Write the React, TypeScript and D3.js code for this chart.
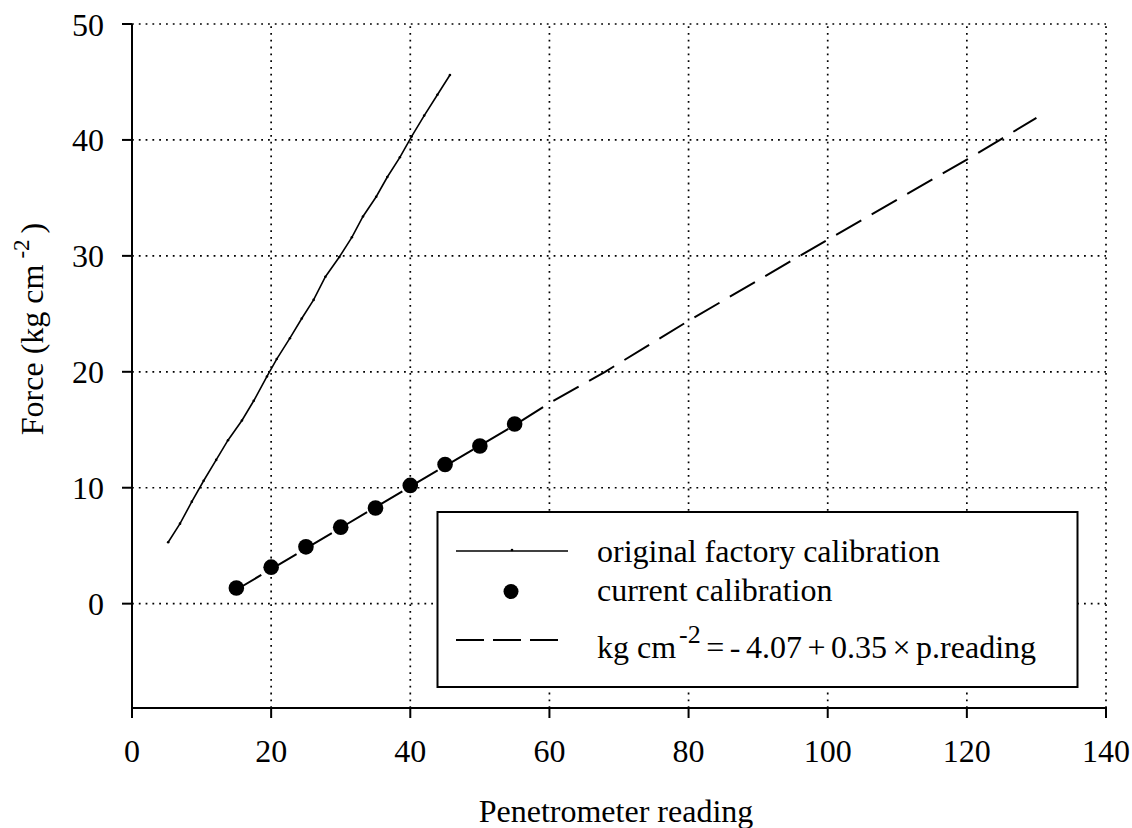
import React from "react";
import * as d3 from "d3";

const factoryX = [5.2, 6.9, 8.6, 10.3, 12.1, 13.8, 15.8, 17.5, 19.4, 20.8, 22.7, 24.4, 26.1, 27.8, 29.8, 31.6, 33.2, 35.1, 36.7, 38.5, 40.2, 42.0, 43.9, 45.7];
const factoryY = [5.3, 6.9, 8.8, 10.6, 12.4, 14.1, 15.8, 17.5, 19.6, 21.1, 22.9, 24.6, 26.2, 28.2, 29.9, 31.6, 33.4, 35.1, 36.8, 38.5, 40.3, 42.1, 43.9, 45.6];

const currentX = [15, 20, 25, 30, 35, 40, 45, 50, 55];
const currentY = [1.35, 3.15, 4.9, 6.6, 8.25, 10.2, 12.0, 13.6, 15.5];

const fitX = [15, 40, 55, 60, 68, 80, 100, 120, 125, 130];
const fitY = [1.2, 10.1, 15.4, 17.3, 20.0, 24.4, 31.4, 38.3, 40.1, 41.9];

const xTicks = [0, 20, 40, 60, 80, 100, 120, 140];
const yTicks = [0, 10, 20, 30, 40, 50];

const legendLabels = ["original factory calibration", "current calibration"];

const FONT = "'Liberation Serif', 'Times New Roman', serif";

export default function App() {
  const W = 1132, H = 828;
  const x = d3.scaleLinear().domain([0, 140]).range([132, 1106]);
  const y = d3.scaleLinear().domain([-9, 50]).range([708, 24]);
  const line = d3.line<[number, number]>().x(d => x(d[0])).y(d => y(d[1]));
  const factory: [number, number][] = factoryX.map((v, i) => [v, factoryY[i]]);
  const current: [number, number][] = currentX.map((v, i) => [v, currentY[i]]);
  const fit: [number, number][] = fitX.map((v, i) => [v, fitY[i]]);

  const [x0, x1] = x.range();
  const [yb, yt] = y.range();

  return (
    <svg width={W} height={H} style={{ position: "absolute", left: 0, top: 0, background: "#fff" }} fontFamily={FONT}>
      {/* grid */}
      <g stroke="#000" strokeWidth={1.7} strokeDasharray="1.8,5" fill="none">
        {xTicks.filter(t => t > 0).map(t => (
          <line key={"gx" + t} x1={x(t)} x2={x(t)} y1={yb} y2={yt} />
        ))}
        {yTicks.map(t => (
          <line key={"gy" + t} x1={x0} x2={x1} y1={y(t)} y2={y(t)} />
        ))}
      </g>
      {/* axes */}
      <g stroke="#000" strokeWidth={2} fill="none">
        <line x1={x0} x2={x0} y1={yb + 1} y2={yt} />
        <line x1={x0} x2={x1 + 1} y1={yb} y2={yb} />
        {xTicks.map(t => (
          <line key={"tx" + t} x1={x(t)} x2={x(t)} y1={yb} y2={yb + 10} />
        ))}
        {yTicks.map(t => (
          <line key={"ty" + t} x1={x0 - 10} x2={x0} y1={y(t)} y2={y(t)} />
        ))}
      </g>
      <g fontSize={32} fill="#000">
        {xTicks.map(t => (
          <text key={"lx" + t} x={x(t)} y={762} textAnchor="middle">{t}</text>
        ))}
        {yTicks.map(t => (
          <text key={"ly" + t} x={104} y={y(t) + 11.5} textAnchor="end">{t}</text>
        ))}
        <text x={616} y={822} textAnchor="middle">Penetrometer reading</text>
        <text transform="translate(43,329) rotate(-90)" textAnchor="middle">
          Force (kg cm<tspan fontSize={23} dx={6} dy={-14}>-2</tspan><tspan dx={6} dy={14}>)</tspan>
        </text>
      </g>
      {/* series */}
      <path d={line(factory) || ""} fill="none" stroke="#000" strokeWidth={1.6} />
      {factory.map((d, i) => (
        <circle key={"fm" + i} cx={x(d[0])} cy={y(d[1])} r={1.3} fill="#000" />
      ))}
      <path d={line(fit) || ""} fill="none" stroke="#000" strokeWidth={2} strokeDasharray="29,12" />
      {current.map((d, i) => (
        <circle key={"cp" + i} cx={x(d[0])} cy={y(d[1])} r={7.8} fill="#000" />
      ))}
      {/* legend */}
      <g>
        <rect x={437.5} y={512} width={640} height={175} fill="#fff" stroke="#000" strokeWidth={2} />
        <line x1={456} x2={568} y1={551} y2={551} stroke="#000" strokeWidth={1.6} />
        <circle cx={512} cy={550} r={1.3} fill="#000" />
        <circle cx={511} cy={591.5} r={7.5} fill="#000" />
        <line x1={456} x2={560} y1={640} y2={640} stroke="#000" strokeWidth={2} strokeDasharray="28,9" />
        <g fontSize={32} fill="#000">
          <text x={597} y={562}>{legendLabels[0]}</text>
          <text x={597} y={601}>{legendLabels[1]}</text>
          <text x={597} y={658}>
            kg cm<tspan fontSize={26} dx={3} dy={-15}>-2</tspan><tspan dy={15} wordSpacing={-2.5}> = - 4.07 + 0.35 × p.reading</tspan>
          </text>
        </g>
      </g>
    </svg>
  );
}
